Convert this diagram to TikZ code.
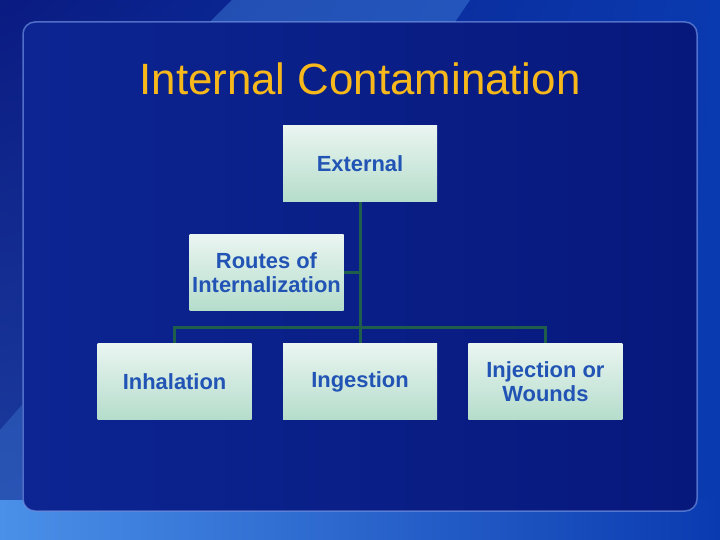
\documentclass[tikz,border=0pt]{standalone}
\usepackage{fontspec}
\setmainfont{Liberation Sans}
\usetikzlibrary{positioning,shadings}
\definecolor{bgnavy}{HTML}{0A1B82}
\definecolor{bgblue}{HTML}{0A3AB0}
\definecolor{bglight}{HTML}{4A90E8}
\definecolor{panelleft}{HTML}{0C2592}
\definecolor{panelright}{HTML}{07187C}
\definecolor{panelrim}{HTML}{6F8FE0}
\definecolor{boxtop}{HTML}{EAF5F1}
\definecolor{boxbot}{HTML}{B5DDCB}
\definecolor{boxtext}{HTML}{2154B4}
\definecolor{linkgreen}{HTML}{1E5E4A}
\definecolor{titlegold}{HTML}{F7B81C}

\begin{document}
\begin{tikzpicture}[
		x=1bp, y=-1bp,
		node distance=32bp,
		route/.style={rectangle, minimum width=154bp, minimum height=76bp, inner sep=0pt,
			top color=boxtop, bottom color=boxbot, align=center, text=boxtext,
			font=\fontsize{22}{24}\selectfont\bfseries},
		link/.style={draw=linkgreen, line width=3bp},
	]
		\useasboundingbox (0,0) rectangle (720,540);
		\shade[upper left=bgnavy, upper right=bgblue, lower left=bgnavy!70!bglight, lower right=bgblue]
			(0,0) rectangle (720,540);
		\shade[left color=bglight, right color=bgblue] (0,500) rectangle (720,540);
		\fill[bglight, opacity=.4] (232,0) -- (470,0) -- (455,22) -- (210,22) -- cycle;
		\fill[bglight, opacity=.3] (0,430) -- (22,405) -- (22,540) -- (0,540) -- cycle;
		\shade[left color=panelleft, right color=panelright, rounded corners=12bp]
			(23,22) rectangle (697,511);
		\draw[panelrim, opacity=.7, line width=1.5bp, rounded corners=12bp]
			(23,22) rectangle (697,511);

		\node[text=titlegold, font=\fontsize{44}{48}\selectfont] (title) at (360,79) {Internal Contamination};

		\node[route] (ext) at (360,164) {External};
		\node[route, below=of ext, xshift=-93.5bp] (rts) {Routes of\\Internalization};
		\node[route, below=141bp of ext] (ing) {Ingestion};
		\node[route, left=31bp of ing] (inh) {Inhalation};
		\node[route, right=31bp of ing] (inj) {Injection or\\Wounds};
		\coordinate[above=16bp of ing] (bus);

		\draw[link] (ext.south) -- (ing.north);
		\draw[link] (rts.east) -- (rts.east -| ext.south);
		\draw[link] (inh.north) -- (inh.north |- bus) -- (inj.north |- bus) -- (inj.north);
	\end{tikzpicture}
\end{document}
